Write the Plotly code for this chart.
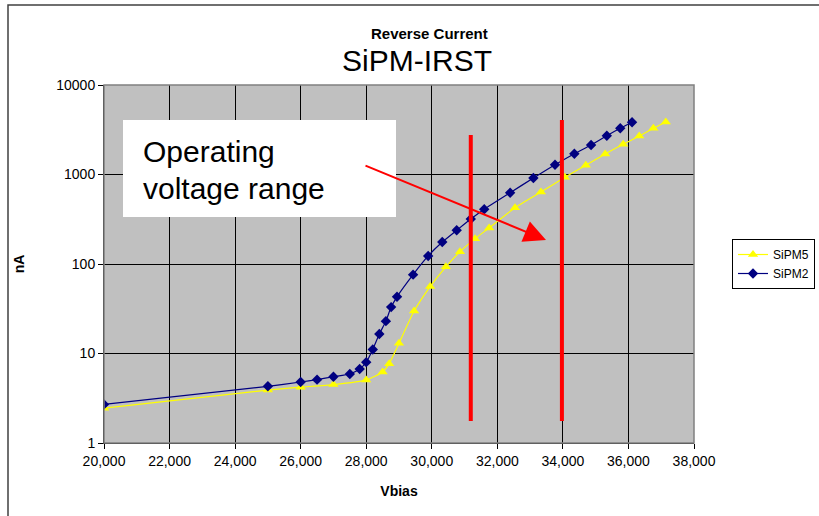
import plotly.graph_objects as go

# Reverse current vs. bias voltage for two SiPM devices
vbias_sipm5 = [20000, 25000, 26000, 27000, 28000, 28500, 28700, 29000, 29460, 29950,
               30430, 30860, 31320, 31750, 32540, 33330, 34060, 34700, 35290, 35840,
               36330, 36760, 37140]
current_sipm5 = [2.45, 3.9, 4.2, 4.5, 5.05, 6.2, 7.7, 13, 29.8, 56,
                 93, 137, 192, 253, 426, 637, 930, 1267, 1694, 2173,
                 2693, 3282, 3860]

vbias_sipm2 = [20000, 25000, 26000, 26500, 27000, 27500, 27800, 28000, 28200, 28400,
               28600, 28760, 28940, 29430, 29890, 30320, 30760, 31190, 31600, 32390,
               33100, 33760, 34350, 34860, 35340, 35750, 36110]
current_sipm2 = [2.7, 4.3, 4.8, 5.1, 5.5, 5.9, 6.7, 8.0, 11.1, 16.5,
                 23, 33, 43, 76, 123, 176, 238, 318, 409, 626,
                 914, 1286, 1708, 2136, 2715, 3283, 3830]

# Operating voltage range markers (bias value, bottom current, top current)
range_low = [31190, 1.76, 2760]
range_high = [33970, 1.76, 4060]

x_ticks = [20000, 22000, 24000, 26000, 28000, 30000, 32000, 34000, 36000, 38000]
y_ticks = [1, 10, 100, 1000, 10000]
y_tick_text = ["1", "10", "100", "1000", "10000"]

FONT = "Arial, Liberation Sans, sans-serif"

fig = go.Figure()

fig.add_trace(go.Scatter(
    x=vbias_sipm5, y=current_sipm5, name="SiPM5", mode="lines+markers",
    line=dict(color="#FFFF00", width=1.2, shape="spline", smoothing=0.5),
    marker=dict(symbol="triangle-up", size=9, color="#FFFF00"),
))
fig.add_trace(go.Scatter(
    x=vbias_sipm2, y=current_sipm2, name="SiPM2", mode="lines+markers",
    line=dict(color="#000080", width=1.2, shape="spline", smoothing=0.5),
    marker=dict(symbol="diamond", size=8, color="#000080"),
))

for r in (range_low, range_high):
    fig.add_trace(go.Scatter(
        x=[r[0], r[0]], y=[r[1], r[2]], mode="lines", showlegend=False,
        line=dict(color="#FF0000", width=4), hoverinfo="skip",
    ))

# pixel -> paper helpers for the fixed 819x516 canvas
L, R, T, B = 104, 694, 85, 443
def px(x):
    return (x - L) / (R - L)
def py(y):
    return (B - y) / (B - T)

shapes = [
    # outer chart frame
    dict(type="rect", xref="paper", yref="paper", x0=px(8), x1=px(830), y0=py(530), y1=py(5),
         line=dict(color="#404040", width=1.5), fillcolor="rgba(0,0,0,0)", layer="above"),
    # plot area border
    dict(type="rect", xref="paper", yref="paper", x0=0, x1=1, y0=0, y1=1,
         line=dict(color="#808080", width=1.5), fillcolor="rgba(0,0,0,0)", layer="above"),
    # white label box
    dict(type="rect", xref="paper", yref="paper", x0=px(123), x1=px(396), y0=py(217), y1=py(120),
         line=dict(width=0), fillcolor="white", layer="above"),
]

annotations = [
    dict(text="<b>Reverse Current</b>", x=px(430), y=py(33), xref="paper", yref="paper",
         showarrow=False, font=dict(family=FONT, size=15, color="black"), xanchor="center", yanchor="middle"),
    dict(text="SiPM-IRST", x=px(417), y=py(60), xref="paper", yref="paper",
         showarrow=False, font=dict(family=FONT, size=30, color="black"), xanchor="center", yanchor="middle"),
    dict(text="Operating", x=px(141), y=py(151), xref="paper", yref="paper",
         showarrow=False, font=dict(family=FONT, size=30, color="black"), xanchor="left", yanchor="middle"),
    dict(text="voltage range", x=px(141), y=py(188), xref="paper", yref="paper",
         showarrow=False, font=dict(family=FONT, size=30, color="black"), xanchor="left", yanchor="middle"),
    dict(text="", x=px(546), y=py(240), xref="paper", yref="paper",
         ax=364 - 546, ay=165 - 240, axref="pixel", ayref="pixel",
         showarrow=True, arrowhead=2, arrowsize=2.2, arrowwidth=2, arrowcolor="#FF0000"),
]

fig.update_layout(
    width=819, height=516,
    margin=dict(l=L, r=819 - R, t=T, b=516 - B, autoexpand=False),
    paper_bgcolor="white", plot_bgcolor="#C0C0C0",
    font=dict(family=FONT, size=14, color="black"),
    shapes=shapes, annotations=annotations,
    legend=dict(x=px(732), y=py(239), xanchor="left", yanchor="top",
                bordercolor="black", borderwidth=1, bgcolor="white",
                font=dict(family=FONT, size=12, color="black")),
    showlegend=True,
)

fig.update_xaxes(
    range=[20000, 38000], tickvals=x_ticks, tickformat=",d",
    showgrid=True, gridcolor="black", gridwidth=1,
    showline=True, linecolor="black", linewidth=1,
    ticks="outside", ticklen=5, tickcolor="black",
    title=dict(text="<b>Vbias</b>", font=dict(size=14), standoff=18),
    zeroline=False, automargin=False,
)
fig.update_yaxes(
    type="log", range=[0, 4], tickvals=y_ticks, ticktext=y_tick_text,
    showgrid=True, gridcolor="black", gridwidth=1,
    showline=True, linecolor="black", linewidth=1,
    ticks="outside", ticklen=5, tickcolor="black",
    title=dict(text="<b>nA</b>", font=dict(size=14), standoff=28),
    zeroline=False, automargin=False,
)

fig.write_html("out.html")
